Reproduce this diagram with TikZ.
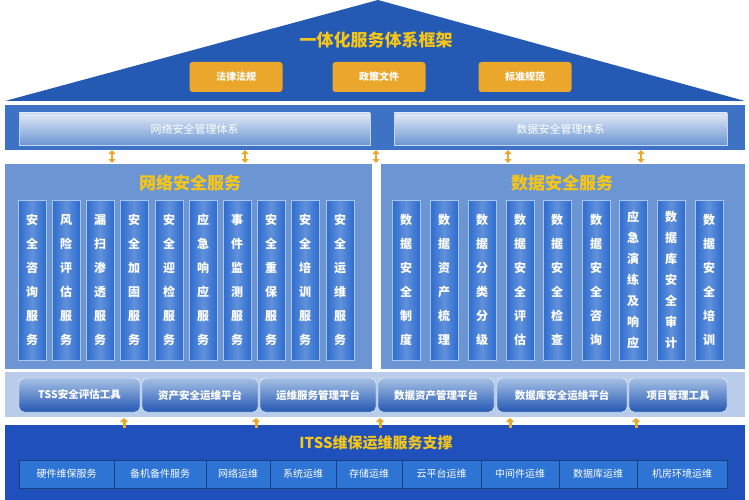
\documentclass[tikz,border=0pt]{standalone}
\usepackage{fontspec}
\setmainfont{Noto Sans CJK SC}
\usetikzlibrary{arrows.meta}
\definecolor{dblue}{HTML}{2459B4}
\definecolor{mblue}{HTML}{3D72C4}
\definecolor{lpanel}{HTML}{6B96D3}
\definecolor{orng}{HTML}{EBA72B}
\definecolor{ttl}{HTML}{F5C518}
\definecolor{colb}{HTML}{2C6CCF}
\definecolor{tband}{HTML}{B9CDEA}
\definecolor{item}{HTML}{2E74D4}
\begin{document}
\begin{tikzpicture}[x=1pt,y=-1pt,
 tag/.style={fill=orng,rounded corners=3pt,minimum width=93pt,minimum height=30pt,font=\fontsize{10}{11}\selectfont\bfseries,text=white,inner sep=0},
 bar/.style={top color=white!85!mblue,bottom color=lpanel,draw=white!70!mblue,minimum height=32pt,font=\fontsize{11}{12}\selectfont,text=white,inner sep=0},
 col/.style={left color=colb,right color=colb,middle color=colb!75!white,draw=white!60!colb,minimum width=28pt,minimum height=160pt,align=center,font=\fontsize{12}{24}\selectfont\bfseries,text=white,inner sep=0},
 col7/.style={col,font=\fontsize{12}{21}\selectfont\bfseries},
 tool/.style={top color=lpanel!60,bottom color=dblue,draw=white,rounded corners=5pt,minimum height=34pt,font=\fontsize{10.5}{12}\selectfont\bfseries,text=white,inner sep=0},
 itm/.style={fill=item,draw=dblue!70!black,minimum height=28pt,font=\fontsize{10}{11}\selectfont,text=white,inner sep=0},
 big/.style={font=\fontsize{17}{19}\selectfont\bfseries,text=ttl},
 dar/.style={{Triangle[width=7pt,length=4pt]}-{Triangle[width=7pt,length=4pt]},line width=2.5pt,orng},
 uar/.style={-{Triangle[width=8pt,length=4pt]},line width=3pt,orng}]
\useasboundingbox (0,0) rectangle (749,500);
\fill[white] (0,0) rectangle (749,500);
% roof
\fill[dblue] (5,101) -- (378,0) -- (745,101) -- cycle;
\node[big] (t0) at (376,40) {一体化服务体系框架};
\node[tag] (o1) at (236,77) {法律法规};
\node[tag] (o2) at (379,77) {政策文件};
\node[tag] (o3) at (525,77) {标准规范};
% mgmt band
\fill[mblue] (5,105) rectangle (745,150);
\node[bar,minimum width=351pt] (m1) at (194.5,129) {网络安全管理体系};
\node[bar,minimum width=333pt] (m2) at (560.5,129) {数据安全管理体系};
% panels
\fill[lpanel] (5,164) rectangle (372,372);
\fill[lpanel] (381,164) rectangle (745,372);
\node[big] (s1) at (190,183) {网络安全服务};
\node[big] (s2) at (562,183) {数据安全服务};
\foreach \x in {112,245,376,508,641}{\coordinate (a\x) at (\x,150); \coordinate (b\x) at (\x,163); \draw[dar] (a\x) -- (b\x);}
% columns left
\foreach \x/\t [count=\i] in {32/安\\全\\咨\\询\\服\\务,66/风\\险\\评\\估\\服\\务,100/漏\\扫\\渗\\透\\服\\务,134/安\\全\\加\\固\\服\\务,169/安\\全\\迎\\检\\服\\务,203/应\\急\\响\\应\\服\\务,237/事\\件\\监\\测\\服\\务,271/安\\全\\重\\保\\服\\务,305/安\\全\\培\\训\\服\\务,340/安\\全\\运\\维\\服\\务}
 \node[col] (L\i) at (\x,280) {\t};
\foreach \x/\t [count=\i] in {406/数\\据\\安\\全\\制\\度,444/数\\据\\资\\产\\梳\\理,482/数\\据\\分\\类\\分\\级,520/数\\据\\安\\全\\评\\估,557/数\\据\\安\\全\\检\\查,596/数\\据\\安\\全\\咨\\询}
 \node[col] (R\i) at (\x,280) {\t};
\node[col7] (R7) at (633,280) {应\\急\\演\\练\\及\\响\\应};
\node[col7] (R8) at (671,280) {数\\据\\库\\安\\全\\审\\计};
\node[col] (R9) at (709,280) {数\\据\\安\\全\\培\\训};
% tool band
\fill[white] (5,369) rectangle (745,372);
\fill[tband] (5,372) rectangle (745,417);
\foreach \a/\b/\t [count=\i] in {19/140/TSS安全评估工具,142/258/资产安全运维平台,260/376/运维服务管理平台,378/494/数据资产管理平台,497/627/数据库安全运维平台,629/727/项目管理工具}
 \node[tool,minimum width={\b-\a}] (T\i) at ({(\a+\b)/2},395) {\t};
% bottom
\fill[dblue!90!blue] (5,425) rectangle (745,500);
\node[big,font=\fontsize{15}{17}\selectfont\bfseries] (t1) at (376,443) {ITSS维保运维服务支撑};
\foreach \x in {124,256,380,510,636}{\coordinate (u\x) at (\x,428); \coordinate (v\x) at (\x,418); \draw[uar] (u\x) -- (v\x);}
\foreach \a/\b/\t [count=\i] in {19/114/硬件维保服务,114/206/备机备件服务,206/270/网络运维,270/336/系统运维,336/402/存储运维,402/481/云平台运维,481/559/中间件运维,559/637/数据库运维,637/727/机房环境运维}
 \node[itm,minimum width={\b-\a}] (I\i) at ({(\a+\b)/2},474) {\t};
\end{tikzpicture}
\end{document}
